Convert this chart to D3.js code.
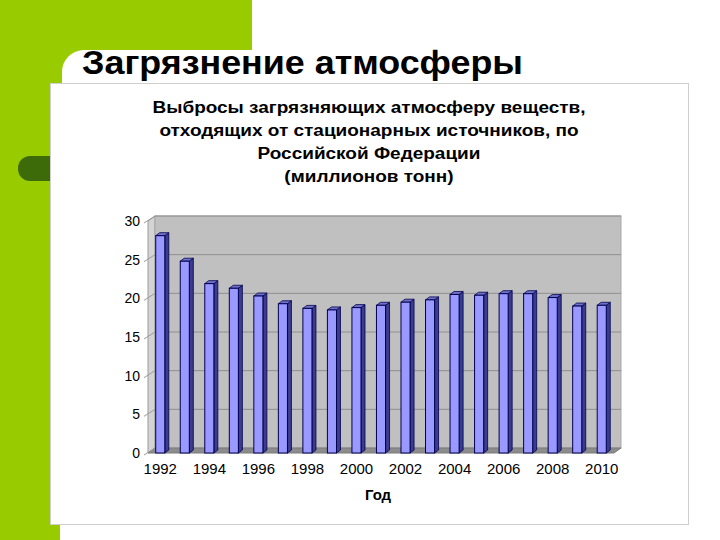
<!DOCTYPE html>
<html>
<head>
<meta charset="utf-8">
<script src="https://cdn.jsdelivr.net/npm/d3@7"></script>
<style>
  body { margin: 0; background: #fff; }
  text { font-family: "Liberation Sans", Arial, sans-serif; }
</style>
</head>
<body>
<div id="chart"></div>
<script>
// data (millions of tonnes)
var years = [1992, 1993, 1994, 1995, 1996, 1997, 1998, 1999, 2000, 2001,
             2002, 2003, 2004, 2005, 2006, 2007, 2008, 2009, 2010];
var emissions = [28.1, 24.8, 21.9, 21.3, 20.3, 19.3, 18.7, 18.5, 18.8, 19.1,
                 19.5, 19.8, 20.5, 20.4, 20.6, 20.6, 20.1, 19.0, 19.1];
var yTicks = [0, 5, 10, 15, 20, 25, 30];
var xTickYears = [1992, 1994, 1996, 1998, 2000, 2002, 2004, 2006, 2008, 2010];
var slideTitle = "Загрязнение атмосферы";
var chartTitle = ["Выбросы загрязняющих атмосферу веществ,",
                  "отходящих от стационарных источников, по",
                  "Российской Федерации",
                  "(миллионов тонн)"];
var xTitle = "Год";

var width = 720,
  height = 540;

var svg = d3.select("#chart")
  .append("svg")
  .attr("width", width)
  .attr("height", height);

// slide background: green corner and strip
svg.append("rect").attr("x", 0).attr("y", 0).attr("width", 252).attr("height", 90)
  .style("fill", "#99cc00");
svg.append("rect").attr("x", 0).attr("y", 0).attr("width", 60).attr("height", height)
  .style("fill", "#99cc00");
svg.append("rect").attr("x", 62).attr("y", 50).attr("width", 300).attr("height", 200)
  .attr("rx", 22).style("fill", "#fff");
svg.append("rect").attr("x", 18).attr("y", 156).attr("width", 50).attr("height", 25)
  .attr("rx", 12).style("fill", "#3d6b0a");

// slide title
svg.append("text")
  .attr("x", 82)
  .attr("y", 74)
  .attr("textLength", 441)
  .attr("lengthAdjust", "spacingAndGlyphs")
  .style("font-size", "33px")
  .style("font-weight", "bold")
  .style("fill", "#000")
  .text(slideTitle);

// chart box
svg.append("rect")
  .attr("x", 50.5).attr("y", 83.5).attr("width", 638).attr("height", 441)
  .style("fill", "#fff").style("stroke", "#cfcfcf");

// chart title, stretched so the first line is as wide as in the picture
var titleLines = svg.append("g").selectAll("text")
  .data(chartTitle)
  .enter()
  .append("text")
  .attr("x", 369)
  .attr("y", function(d, i) { return 113 + i * 23; })
  .attr("text-anchor", "middle")
  .style("font-size", "16px")
  .style("font-weight", "bold")
  .text(function(d) { return d; });
var stretch = 433 / titleLines.node().getComputedTextLength();
titleLines.each(function() {
  d3.select(this)
    .attr("textLength", this.getComputedTextLength() * stretch)
    .attr("lengthAdjust", "spacingAndGlyphs");
});

// scales (front plane); back wall is shifted by depth
var left = 148, right = 614;
var dx = 7, dy = -5;
var x = d3.scaleBand()
  .domain(years)
  .range([left, right])
  .paddingInner(0.63)
  .paddingOuter(0.315);
var y = d3.scaleLinear()
  .domain([0, 30])
  .range([453, 221]);

// side wall
svg.append("polygon")
  .attr("points", [[left, y(0)], [left, y(30)], [left + dx, y(30) + dy], [left + dx, y(0) + dy]].join(" "))
  .style("fill", "#d4d4d4").style("stroke", "#9a9a9a");
// back wall
svg.append("rect")
  .attr("x", left + dx).attr("y", y(30) + dy)
  .attr("width", right - left).attr("height", y(0) - y(30))
  .style("fill", "#c0c0c0").style("stroke", "#a8a8a8");
// floor
svg.append("polygon")
  .attr("points", [[left, y(0)], [left + dx, y(0) + dy], [right + dx, y(0) + dy], [right, y(0)]].join(" "))
  .style("fill", "#8c8c8c").style("stroke", "#7a7a7a");

// gridlines
var grid = svg.append("g");
grid.selectAll(".gb")
  .data(yTicks.slice(1))
  .enter().append("line")
  .attr("x1", left + dx).attr("x2", right + dx)
  .attr("y1", function(d) { return y(d) + dy; })
  .attr("y2", function(d) { return y(d) + dy; })
  .style("stroke", "#8f8f8f").style("stroke-width", 1);
grid.selectAll(".gs")
  .data(yTicks)
  .enter().append("line")
  .attr("x1", left - 4).attr("x2", left + dx)
  .attr("y1", function(d) { return y(d) + 2; })
  .attr("y2", function(d) { return y(d) + dy; })
  .style("stroke", "#9a9a9a");

// y axis labels
var yAxis = svg.append("g")
  .attr("transform", "translate(" + (left - 4) + ",0)")
  .call(d3.axisLeft(y).tickValues(yTicks).tickSize(0).tickPadding(4));
yAxis.select(".domain").remove();
yAxis.selectAll("text").style("font-size", "14px").style("font-family", "Liberation Sans, Arial, sans-serif").attr("fill", "#000");

// bars
var bw = x.bandwidth(), sd = 4, td = -3;
var bars = svg.append("g").selectAll(".bar")
  .data(years.map(function(yr, i) { return {year: yr, value: emissions[i]}; }))
  .enter().append("g").attr("class", "bar");
bars.append("polygon")
  .attr("points", function(d) {
    var x0 = x(d.year) + bw, t = y(d.value), b = y(0);
    return [[x0, b], [x0, t], [x0 + sd, t + td], [x0 + sd, b + td]].join(" ");
  })
  .style("fill", "#3c3c8c").style("stroke", "#000050").style("stroke-width", 0.8);
bars.append("polygon")
  .attr("points", function(d) {
    var x0 = x(d.year), t = y(d.value);
    return [[x0, t], [x0 + sd, t + td], [x0 + bw + sd, t + td], [x0 + bw, t]].join(" ");
  })
  .style("fill", "#7070c8").style("stroke", "#000050").style("stroke-width", 0.8);
bars.append("rect")
  .attr("x", function(d) { return x(d.year); })
  .attr("y", function(d) { return y(d.value); })
  .attr("width", bw)
  .attr("height", function(d) { return y(0) - y(d.value); })
  .style("fill", "#9999ff").style("stroke", "#000050").style("stroke-width", 1);

// x axis labels
var xAxis = svg.append("g")
  .attr("transform", "translate(0," + (y(0) + 2) + ")")
  .call(d3.axisBottom(x).tickValues(xTickYears).tickSize(0).tickPadding(8));
xAxis.select(".domain").remove();
xAxis.selectAll("text").style("font-size", "15px").style("font-family", "Liberation Sans, Arial, sans-serif").attr("fill", "#000");

// axis title
svg.append("text")
  .attr("x", 378)
  .attr("y", 500)
  .attr("text-anchor", "middle")
  .style("font-size", "15px")
  .style("font-weight", "bold")
  .text(xTitle);
</script>
</body>
</html>
